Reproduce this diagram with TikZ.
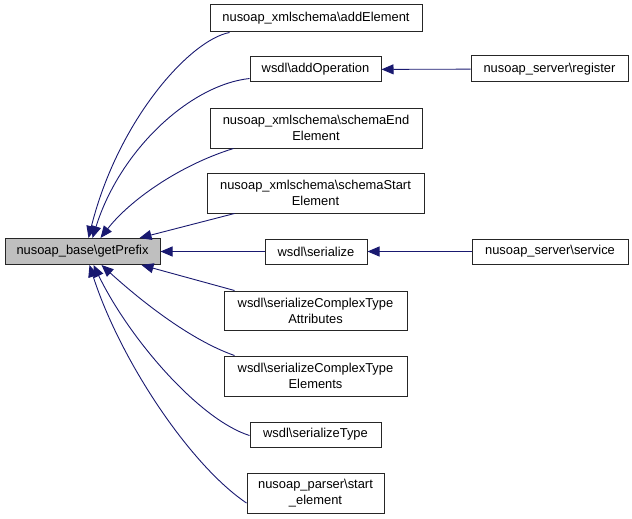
\documentclass[tikz,border=0pt]{standalone}
\usepackage{fontspec}
\setmainfont{Liberation Sans}
\usetikzlibrary{arrows.meta}
\definecolor{midnightblue}{RGB}{25,25,112}
\begin{document}
\begin{tikzpicture}[x=1pt,y=-1pt,
		>={Triangle[length=12pt,width=10pt]},
		box/.style={draw=black!85,line width=1pt,inner sep=0pt,align=center,
			font=\fontsize{12.9}{16}\selectfont},
		call/.style={->,draw=midnightblue,line width=0.9pt}]
			\useasboundingbox (0,0) rectangle (632,519);
			\node (gP)   at (82.5,251.5) [box,fill=black!25,minimum width=155,minimum height=26] {nusoap\_base\textbackslash getPrefix};
			\node (aE)   at (316,18.5)   [box,minimum width=212,minimum height=27] {nusoap\_xmlschema\textbackslash addElement};
			\node (aO)   at (315.5,69.5) [box,minimum width=131,minimum height=25] {wsdl\textbackslash addOperation};
			\node (sEE)  at (316,128)    [box,minimum width=212,minimum height=40] {nusoap\_xmlschema\textbackslash schemaEnd\\Element};
			\node (sSE)  at (315.5,193)  [box,minimum width=217,minimum height=40] {nusoap\_xmlschema\textbackslash schemaStart\\Element};
			\node (ser)  at (316,251.5)  [box,minimum width=102,minimum height=25] {wsdl\textbackslash serialize} edge [call] (gP);
			\node (sCTA) at (315.5,310.5)[box,minimum width=183,minimum height=39] {wsdl\textbackslash serializeComplexType\\Attributes};
			\node (sCTE) at (315.5,376)  [box,minimum width=183,minimum height=40] {wsdl\textbackslash serializeComplexType\\Elements};
			\node (sT)   at (315.5,434.5)[box,minimum width=131,minimum height=25] {wsdl\textbackslash serializeType};
			\node (sEl)  at (315.5,493)  [box,minimum width=137,minimum height=40] {nusoap\_parser\textbackslash start\\\_element};
			\node (reg)  at (549.5,69)   [box,minimum width=157,minimum height=26] {nusoap\_server\textbackslash register} edge [call] (aO);
			\node (srv)  at (550,251.5)  [box,minimum width=156,minimum height=25] {nusoap\_server\textbackslash service} edge [call] (ser);
			\draw[call] ([xshift=20pt]aE.south west) .. controls (190,40) and (118,120) .. ([xshift=6pt]gP.north);
			\draw[call] ([yshift=-9pt]aO.west) .. controls (190,85) and (120,150) .. ([xshift=10pt]gP.north);
			\draw[call] ([xshift=24pt]sEE.south west) .. controls (180,165) and (130,200) .. ([xshift=18pt]gP.north);
			\draw[call] ([xshift=28pt]sSE.south west) -- ([xshift=57pt]gP.north);
			\draw[call] ([xshift=11pt]sCTA.north west) -- ([xshift=59pt]gP.south);
			\draw[call] ([xshift=11pt]sCTE.north west) .. controls (190,340) and (140,300) .. ([xshift=19pt]gP.south);
			\draw[call] ([yshift=-1pt]sT.west) .. controls (200,420) and (130,340) .. ([xshift=11pt]gP.south);
			\draw[call] ([yshift=-10pt]sEl.west) .. controls (190,465) and (120,360) .. ([xshift=7pt]gP.south);
		\end{tikzpicture}
\end{document}
